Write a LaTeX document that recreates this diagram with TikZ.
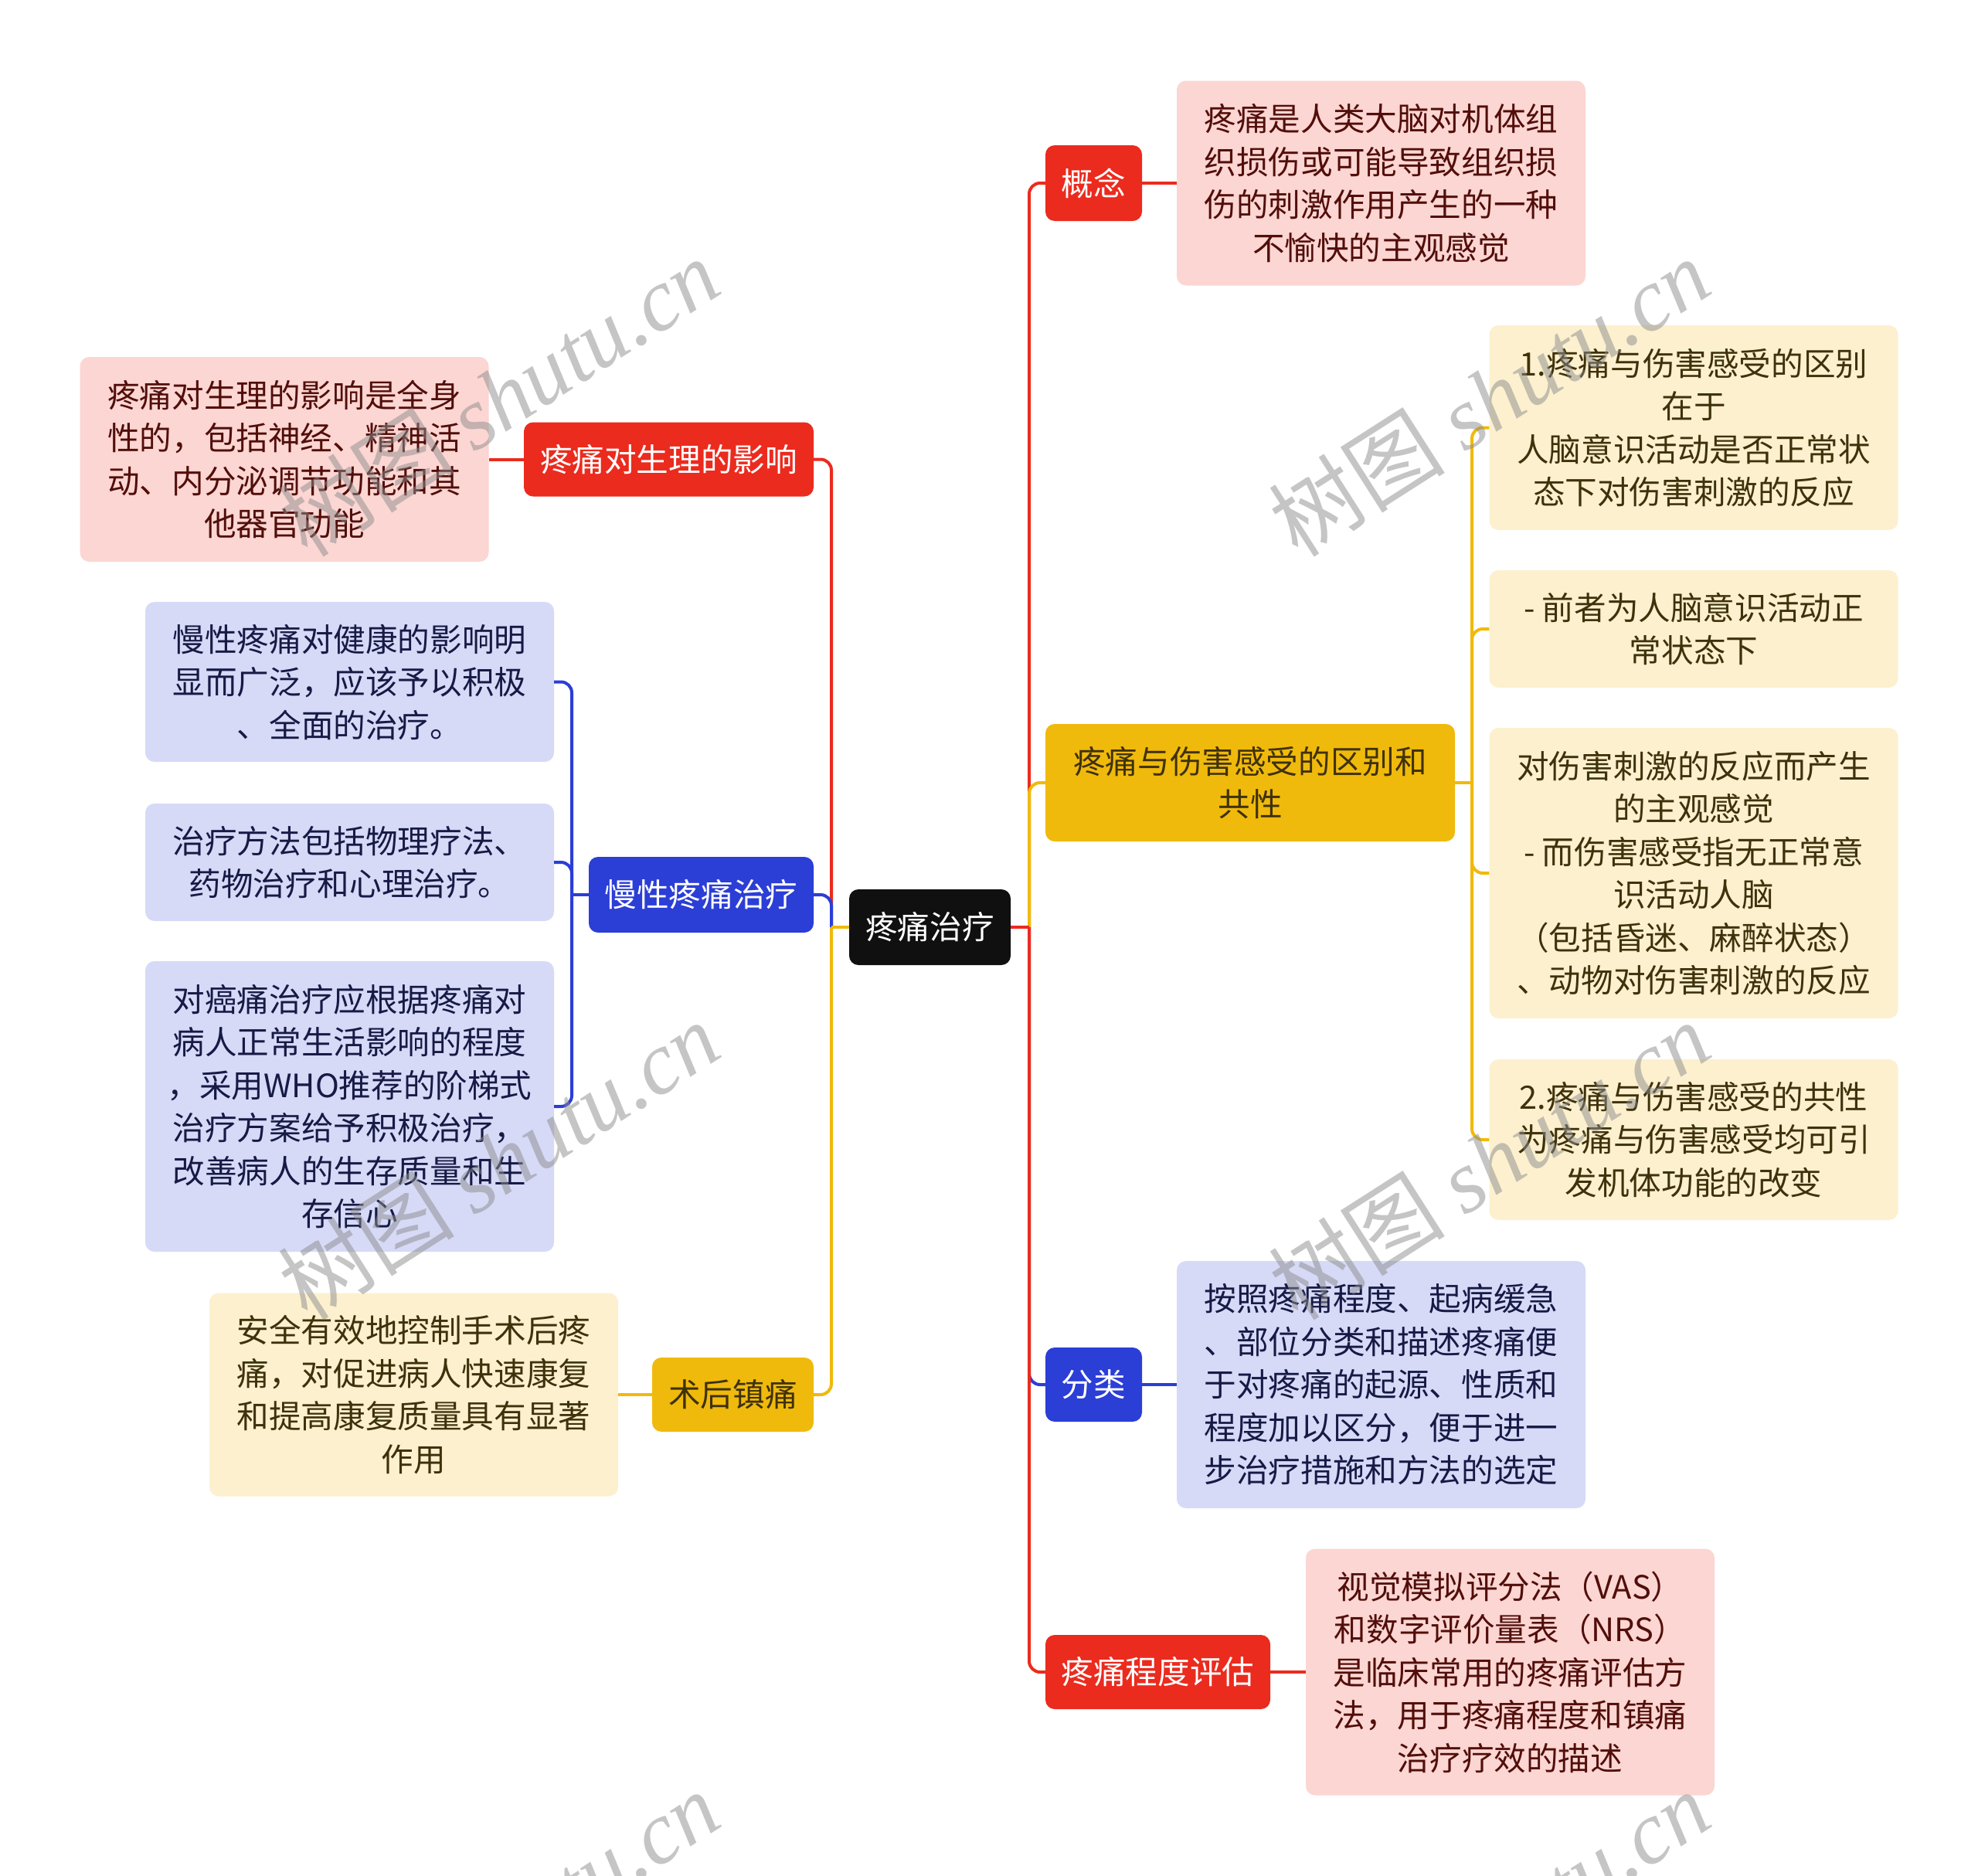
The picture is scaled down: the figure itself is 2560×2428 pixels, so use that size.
\documentclass[tikz,border=0pt]{standalone}
\usepackage{fontspec}
\setmainfont{Noto Sans CJK SC}
\newfontfamily\wmlatin{Liberation Serif}
\newfontfamily\wmcjk{Noto Sans CJK SC}
\definecolor{redM}{RGB}{235,43,30}
\definecolor{redL}{RGB}{251,214,211}
\definecolor{redT}{RGB}{82,14,10}
\definecolor{bluM}{RGB}{43,62,214}
\definecolor{bluL}{RGB}{214,218,247}
\definecolor{bluT}{RGB}{22,26,69}
\definecolor{yelM}{RGB}{240,186,12}
\definecolor{yelL}{RGB}{252,240,207}
\definecolor{yelT}{RGB}{63,49,10}
\definecolor{rootC}{RGB}{16,16,16}
\begin{document}
\begin{tikzpicture}[x=1pt,y=-1pt,
  boxbase/.style={rounded corners=12pt, inner sep=0pt, align=center, font=\fontsize{41.6}{55.5}\selectfont},
  rootbox/.style={boxbase, fill=rootC, text=white},
  redmain/.style={boxbase, fill=redM, text=white},
  blumain/.style={boxbase, fill=bluM, text=white},
  yelmain/.style={boxbase, fill=yelM, text=yelT},
  reddet/.style={boxbase, fill=redL, text=redT, minimum width=529pt},
  bludet/.style={boxbase, fill=bluL, text=bluT, minimum width=529pt},
  yeldet/.style={boxbase, fill=yelL, text=yelT, minimum width=529pt},
  conn/.style={line width=4pt},
  rc/.style={conn, rounded corners=14pt},
  wm/.style={rotate=32.6, text=black!45, text opacity=0.5, inner sep=0pt, font=\fontsize{115}{115}\selectfont}
]
\fill[white] (0,0) rectangle (2560,2428);
\useasboundingbox (0,0) rectangle (2560,2428);

% root
\node[rootbox, minimum width=209pt, minimum height=98pt] (root) at (1203.5,1200) {疼痛治疗};

% right side
\node[redmain, minimum width=125pt, minimum height=98pt] (gn) at (1415.5,237) {概念};
\node[reddet, minimum height=265pt] (gnd) at (1787.5,237) {疼痛是人类大脑对机体组\\织损伤或可能导致组织损\\伤的刺激作用产生的一种\\不愉快的主观感觉};

\node[yelmain, minimum width=530pt, minimum height=152pt] (qb) at (1618,1013) {疼痛与伤害感受的区别和\\共性};
\node[yeldet, minimum height=265pt] (d1) at (2192,553.5) {1.疼痛与伤害感受的区别\\在于\\人脑意识活动是否正常状\\态下对伤害刺激的反应};
\node[yeldet, minimum height=152pt] (d2) at (2192,814) {- 前者为人脑意识活动正\\常状态下};
\node[yeldet, minimum height=376pt] (d3) at (2192,1130) {对伤害刺激的反应而产生\\的主观感觉\\- 而伤害感受指无正常意\\识活动人脑\\（包括昏迷、麻醉状态）\\、动物对伤害刺激的反应};
\node[yeldet, minimum height=208pt] (d4) at (2192,1475) {2.疼痛与伤害感受的共性\\为疼痛与伤害感受均可引\\发机体功能的改变};

\node[blumain, minimum width=125pt, minimum height=96pt] (fl) at (1415.5,1792) {分类};
\node[bludet, minimum height=320pt] (fld) at (1787.5,1792) {按照疼痛程度、起病缓急\\、部位分类和描述疼痛便\\于对疼痛的起源、性质和\\程度加以区分，便于进一\\步治疗措施和方法的选定};

\node[redmain, minimum width=291pt, minimum height=96pt] (pg) at (1498.5,2164) {疼痛程度评估};
\node[reddet, minimum height=319pt] (pgd) at (1954.5,2164) {视觉模拟评分法（VAS）\\和数字评价量表（NRS）\\是临床常用的疼痛评估方\\法，用于疼痛程度和镇痛\\治疗疗效的描述};

% left side
\node[redmain, minimum width=375pt, minimum height=96pt] (sl) at (865.5,594.5) {疼痛对生理的影响};
\node[reddet, minimum height=265pt] (sld) at (368,594.5) {疼痛对生理的影响是全身\\性的，包括神经、精神活\\动、内分泌调节功能和其\\他器官功能};

\node[blumain, minimum width=291pt, minimum height=98pt] (mx) at (907.5,1158) {慢性疼痛治疗};
\node[bludet, minimum height=207pt] (b1) at (452.5,882.5) {慢性疼痛对健康的影响明\\显而广泛，应该予以积极\\、全面的治疗。};
\node[bludet, minimum height=152pt] (b2) at (452.5,1116) {治疗方法包括物理疗法、\\药物治疗和心理治疗。};
\node[bludet, minimum height=376pt] (b3) at (452.5,1432) {对癌痛治疗应根据疼痛对\\病人正常生活影响的程度\\，采用WHO推荐的阶梯式\\治疗方案给予积极治疗，\\改善病人的生存质量和生\\存信心};

\node[yelmain, minimum width=209pt, minimum height=96pt] (sh) at (948.5,1805) {术后镇痛};
\node[yeldet, minimum height=263pt] (shd) at (535.5,1805) {安全有效地控制手术后疼\\痛，对促进病人快速康复\\和提高康复质量具有显著\\作用};

% junctions
\coordinate (RJ) at (1332,1200);
\coordinate (LJ) at (1076,1200);
\coordinate (YJ) at (1905,1013);
\coordinate (BJ) at (740,1158);

% right connectors
\draw[conn, draw=redM] (root.east) -- (RJ);
\draw[rc, draw=redM] (RJ) |- (gn.west);
\draw[conn, draw=yelM] (root.east) -- (RJ);
\draw[rc, draw=yelM] (RJ) |- (qb.west);
\draw[conn, draw=bluM] (root.east) -- (RJ);
\draw[rc, draw=bluM] (RJ) |- (fl.west);
\draw[conn, draw=redM] (root.east) -- (RJ);
\draw[rc, draw=redM] (RJ) |- (pg.west);

\draw[conn, draw=redM] (gn.east) -- (gnd.west);
\draw[conn, draw=bluM] (fl.east) -- (fld.west);
\draw[conn, draw=redM] (pg.east) -- (pgd.west);

\draw[conn, draw=yelM] (qb.east) -- (YJ);
\draw[rc, draw=yelM] (YJ) |- (d1.west);
\draw[rc, draw=yelM] (YJ) |- (d2.west);
\draw[rc, draw=yelM] (YJ) |- (d3.west);
\draw[rc, draw=yelM] (YJ) |- (d4.west);

% left connectors
\draw[conn, draw=redM] (root.west) -- (LJ);
\draw[rc, draw=redM] (LJ) |- (sl.east);
\draw[conn, draw=bluM] (root.west) -- (LJ);
\draw[rc, draw=bluM] (LJ) |- (mx.east);
\draw[conn, draw=yelM] (root.west) -- (LJ);
\draw[rc, draw=yelM] (LJ) |- (sh.east);

\draw[conn, draw=redM] (sl.west) -- (sld.east);
\draw[conn, draw=yelM] (sh.west) -- (shd.east);

\draw[conn, draw=bluM] (mx.west) -- (BJ);
\draw[rc, draw=bluM] (BJ) |- (b1.east);
\draw[rc, draw=bluM] (BJ) |- (b2.east);
\draw[rc, draw=bluM] (BJ) |- (b3.east);

% watermarks
\node[wm] (wm1) at (645,514) {{\wmcjk 树图} {\wmlatin\itshape shutu.cn}};
\node[wm] (wm2) at (1927,514) {{\wmcjk 树图} {\wmlatin\itshape shutu.cn}};
\node[wm] (wm3) at (645,1502) {{\wmcjk 树图} {\wmlatin\itshape shutu.cn}};
\node[wm] (wm4) at (1927,1502) {{\wmcjk 树图} {\wmlatin\itshape shutu.cn}};
\node[wm] (wm5) at (645,2498) {{\wmcjk 树图} {\wmlatin\itshape shutu.cn}};
\node[wm] (wm6) at (1927,2498) {{\wmcjk 树图} {\wmlatin\itshape shutu.cn}};
\end{tikzpicture}
\end{document}
